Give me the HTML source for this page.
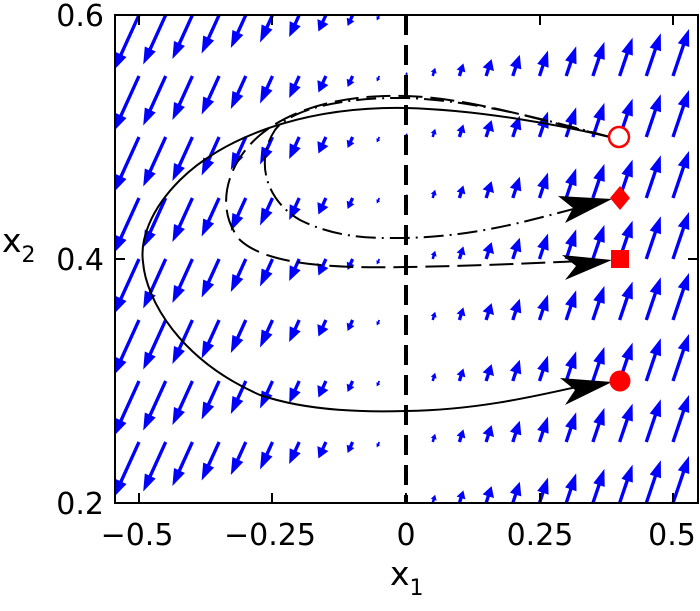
<!DOCTYPE html>
<html><head><meta charset="utf-8"><style>
body{margin:0;background:#fff}
svg text{font-family:"DejaVu Sans","Liberation Sans",sans-serif;fill:#000}
</style></head><body>
<svg id="s" width="700" height="606" xmlns="http://www.w3.org/2000/svg">
<defs><clipPath id="c"><rect x="115" y="15" width="583" height="488"/></clipPath></defs>
<g id="q" fill="#0000ff" stroke="none" clip-path="url(#c)"></g>
<line x1="406" y1="15" x2="406" y2="503" stroke="#000" stroke-width="4" stroke-dasharray="20,10"/>
<g fill="none" stroke="#000" stroke-width="2">
<path d="M610,137 C560,125 480,110 406,108 C300,106 220,140 180,180 C150,210 140,240 143,262 C146,300 180,360 260,395 C310,412 370,412 406,411 C480,410 540,395 590,384"/>
<path d="M610,137 C540,120 470,98 406,96 C340,94 290,110 260,135 C225,165 215,210 240,240 C270,268 350,268 406,267 C480,266 530,263 585,261" stroke-dasharray="24,8"/>
<path d="M610,137 C540,118 470,100 406,98 C340,97 290,110 275,130 C255,160 265,200 300,220 C340,240 380,238 406,238 C480,236 530,220 585,206" stroke-dasharray="20,6,2,6"/>
</g>
<g fill="#000">
<polygon points="612,382 560,378 575,390 565,405"/>
<polygon points="612,260 562,255 576,266 565,280"/>
<polygon points="612,199 558,196 573,208 565,223"/>
</g>
<circle cx="619" cy="137" r="10" fill="#fff" stroke="#ff0000" stroke-width="2.5"/>
<polygon points="620,186 630,198 620,210 610,198" fill="#ff0000"/>
<rect x="611" y="250" width="18" height="18" fill="#ff0000"/>
<circle cx="620" cy="381" r="10.5" fill="#ff0000"/>
<rect x="115" y="15" width="583" height="488" fill="none" stroke="#000" stroke-width="2"/>
<g stroke="#000" stroke-width="2">
<line x1="139" y1="503" x2="139" y2="493"/><line x1="272" y1="503" x2="272" y2="493"/><line x1="406" y1="503" x2="406" y2="493"/><line x1="540" y1="503" x2="540" y2="493"/><line x1="673" y1="503" x2="673" y2="493"/>
<line x1="139" y1="15" x2="139" y2="25"/><line x1="272" y1="15" x2="272" y2="25"/><line x1="406" y1="15" x2="406" y2="25"/><line x1="540" y1="15" x2="540" y2="25"/><line x1="673" y1="15" x2="673" y2="25"/>
<line x1="115" y1="259" x2="125" y2="259"/><line x1="698" y1="259" x2="688" y2="259"/>
</g>
<g font-size="30" text-anchor="middle">
<text x="137" y="545">−0.5</text><text x="270" y="545">−0.25</text><text x="406" y="545">0</text><text x="540" y="545">0.25</text><text x="672" y="545">0.5</text>
</g>
<g font-size="30" text-anchor="end">
<text x="104" y="26">0.6</text><text x="104" y="270">0.4</text><text x="104" y="514">0.2</text>
</g>
<text x="390" y="585" font-size="33">x<tspan font-size="22" dy="10">1</tspan></text>
<text x="2" y="252" font-size="33">x<tspan font-size="22" dy="10">2</tspan></text>
</svg>
<script>
var g=document.getElementById('q'),h='';
for(var i=0;i<23;i++){var x=-0.55+0.05*i;var px=406+x*534;
for(var j=0;j<9;j++){var py=15+j*61;
var dx,dy;if(x<-0.001){dx=50*x;dy=-110*x;}else{dx=30*x+1;dy=-(86*x+4);}
var L=Math.sqrt(dx*dx+dy*dy);var ux=dx/L,uy=dy/L,nx=-uy,ny=ux;
var hl=Math.min(17,L*0.6),hw=Math.min(6,L*0.35),sw=Math.min(1.7,L*0.15);
var tx=px+dx,ty=py+dy,bx=tx-ux*hl,by=ty-uy*hl;
var p=[[px+nx*sw,py+ny*sw],[bx+nx*sw,by+ny*sw],[bx+nx*hw,by+ny*hw],[tx,ty],[bx-nx*hw,by-ny*hw],[bx-nx*sw,by-ny*sw],[px-nx*sw,py-ny*sw]];
h+='<polygon points="'+p.map(function(a){return a[0].toFixed(1)+','+a[1].toFixed(1)}).join(' ')+'"/>';}}
g.innerHTML=h;
</script>
</body></html>
